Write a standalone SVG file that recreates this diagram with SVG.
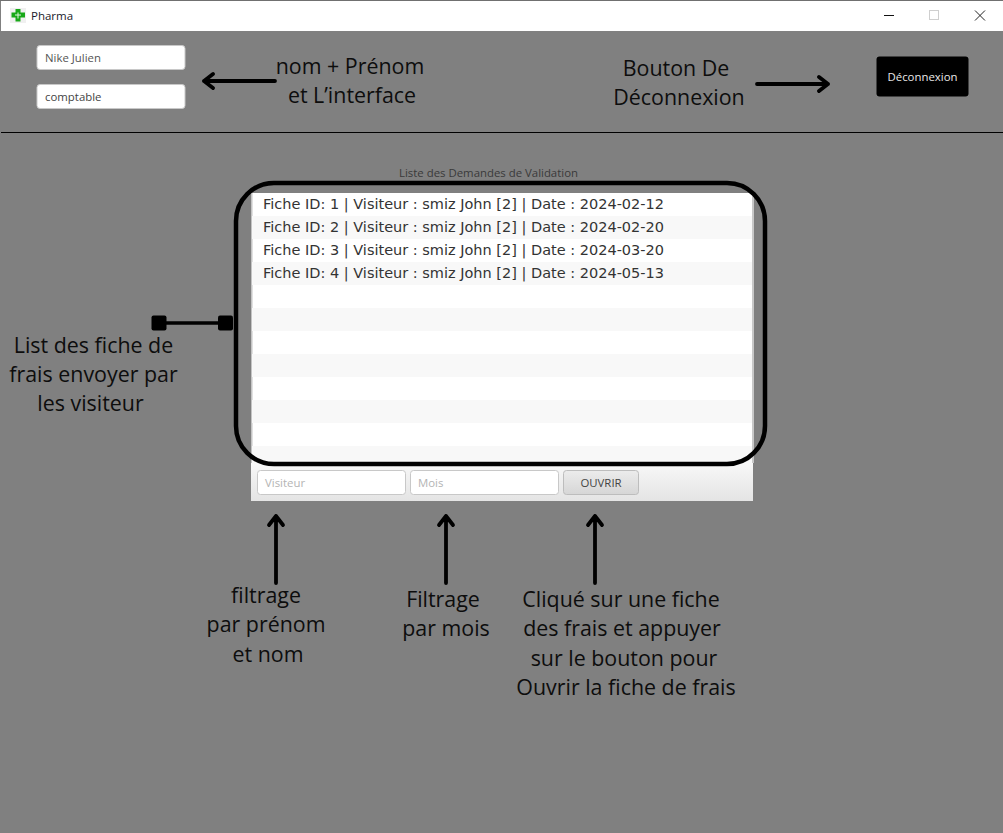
<svg xmlns="http://www.w3.org/2000/svg" width="1003" height="833" viewBox="0 0 1003 833">
<style>
.ann{font-family:"Open Sans",sans-serif;font-size:21.4px;fill:#0d0d0d;text-anchor:middle}
.ui{font-family:"Open Sans",sans-serif;font-size:11.4px}
.row{font-family:"DejaVu Sans",sans-serif;font-size:13.4px;fill:#333}
.arrow{fill:none;stroke:#000;stroke-width:3.800;stroke-linecap:round;stroke-linejoin:round}
.field{fill:#fff;stroke:#c8c8c8;stroke-width:1}
</style>
<defs>
<linearGradient id="foot" x1="0" y1="0" x2="0" y2="1"><stop offset="0" stop-color="#f8f8f8"/><stop offset="1" stop-color="#e4e4e4"/></linearGradient>
<linearGradient id="btn" x1="0" y1="0" x2="0" y2="1"><stop offset="0" stop-color="#ececec"/><stop offset="1" stop-color="#d6d6d6"/></linearGradient>
</defs>
<rect width="1003" height="833" fill="#808080"/>
<g id="titlebar">
<rect x="1" y="1" width="1002" height="30" fill="#fff"/>
<rect width="1003" height="1" fill="#707070"/>
<rect x="10" y="8" width="16" height="15" fill="#f0f0f0"/>
<path d="M15.500 9h5v3.500h4.500v5h-4.500v4h-5v-4h-4v-5h4z" fill="#18a818"/>
<path d="M18 12.500v6M15 15h6" stroke="#dff5df" stroke-width="1" fill="none"/>
<text x="31" y="20" font-family="Open Sans, sans-serif" font-size="11.500" fill="#1a1a2a">Pharma</text>
<rect x="884" y="15" width="10" height="1" fill="#111"/>
<rect x="929.500" y="10.500" width="9" height="9" fill="none" stroke="#cfcfcf"/>
<path d="M975 10.500l10 10M985 10.500l-10 10" stroke="#222" stroke-width="1" fill="none"/>
</g>
<rect x="1" y="132" width="1002" height="1" fill="#000"/>
<g id="field-name"><rect class="field" x="37" y="45.500" width="148" height="24" rx="3"/><text class="ui" x="45" y="62" fill="#555">Nike Julien</text></g>
<g id="field-role"><rect class="field" x="37" y="84.500" width="148" height="24" rx="3"/><text class="ui" x="45" y="101" fill="#444">comptable</text></g>
<g id="logout"><rect x="876.500" y="56.500" width="92" height="40" rx="3" fill="#000"/><text class="ui" x="922.500" y="81" fill="#e8e8e8" text-anchor="middle">Déconnexion</text></g>
<text class="ui" x="488.500" y="177" fill="#3a3a3a" text-anchor="middle">Liste des Demandes de Validation</text>
<g id="list">
<rect x="251" y="193" width="503" height="270" fill="#fff"/>
<rect x="251" y="193" width="1.500" height="270" fill="#c4c4c4"/>
<rect x="752" y="193" width="2" height="270" fill="#c8c8c8"/>
<g fill="#f8f8f8"><rect x="252" y="216" width="500" height="23"/><rect x="252" y="262" width="500" height="23"/><rect x="252" y="308" width="500" height="23"/><rect x="252" y="354" width="500" height="23"/><rect x="252" y="400" width="500" height="23"/><rect x="252" y="446" width="500" height="17"/></g>
<text class="row" x="263" y="209" textLength="401" lengthAdjust="spacingAndGlyphs">Fiche ID: 1 | Visiteur : smiz John [2] | Date : 2024-02-12</text>
<text class="row" x="263" y="232" textLength="401" lengthAdjust="spacingAndGlyphs">Fiche ID: 2 | Visiteur : smiz John [2] | Date : 2024-02-20</text>
<text class="row" x="263" y="255" textLength="401" lengthAdjust="spacingAndGlyphs">Fiche ID: 3 | Visiteur : smiz John [2] | Date : 2024-03-20</text>
<text class="row" x="263" y="278" textLength="401" lengthAdjust="spacingAndGlyphs">Fiche ID: 4 | Visiteur : smiz John [2] | Date : 2024-05-13</text>
</g>
<g id="footer">
<rect x="251" y="463" width="502" height="38" fill="url(#foot)"/>
<rect x="257.500" y="470.500" width="148" height="24" rx="3" class="field"/><text class="ui" x="265" y="487" fill="#b4b4b4">Visiteur</text>
<rect x="410.500" y="470.500" width="148" height="24" rx="3" class="field"/><text class="ui" x="418" y="487" fill="#b4b4b4">Mois</text>
<rect x="563.500" y="470.500" width="75" height="24" rx="3" fill="url(#btn)" stroke="#bdbdbd"/><text class="ui" x="601" y="487" fill="#444" text-anchor="middle">OUVRIR</text>
</g>
<g id="highlight"><rect x="236" y="183" width="529" height="281" rx="38" fill="none" stroke="#000" stroke-width="4.500"/></g>
<g id="connectors">
<path class="arrow" d="M275 81H204M213 74l-9 7 9 7"/>
<path class="arrow" d="M757 84H828M819 77l9 7-9 7"/>
<path class="arrow" d="M276 583V516M269 525l7-9 7 9"/>
<path class="arrow" d="M446 583V516M439 525l7-9 7 9"/>
<path class="arrow" d="M595 583V516M588 525l7-9 7 9"/>
<path d="M159 323H225" stroke="#000" stroke-width="3.500"/>
<rect x="151.500" y="315.500" width="15" height="15" rx="2" fill="#000"/>
<rect x="218" y="315.500" width="15" height="15" rx="2" fill="#000"/>
</g>
<g id="notes">
<text class="ann" x="350" y="74">nom + Prénom</text><text class="ann" x="352" y="103">et L’interface</text>
<text class="ann" x="676" y="76">Bouton De</text><text class="ann" x="679" y="105">Déconnexion</text>
<text class="ann" x="93.500" y="353">List des fiche de</text><text class="ann" x="93.500" y="382">frais envoyer par</text><text class="ann" x="90.500" y="411">les visiteur</text>
<text class="ann" x="266" y="603">filtrage</text><text class="ann" x="266" y="632">par prénom</text><text class="ann" x="268" y="662">et nom</text>
<text class="ann" x="443" y="607">Filtrage</text><text class="ann" x="446" y="636">par mois</text>
<text class="ann" x="621" y="607">Cliqué sur une fiche</text><text class="ann" x="622" y="636">des frais et appuyer</text><text class="ann" x="624" y="666">sur le bouton pour</text><text class="ann" x="626" y="695">Ouvrir la fiche de frais</text>
</g>
</svg>
